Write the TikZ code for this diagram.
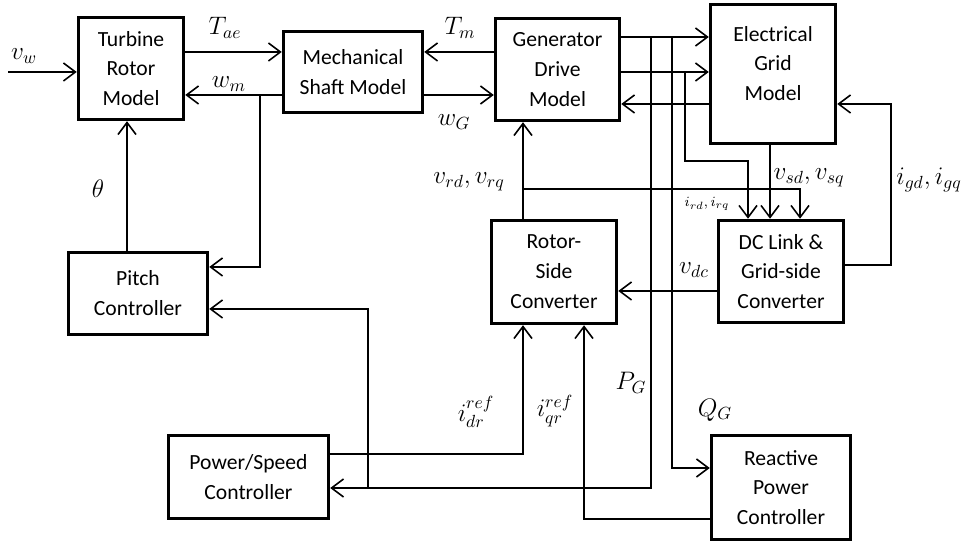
\documentclass[tikz,border=0pt]{standalone}
\usepackage{fontspec}
\setmainfont{Carlito}
\usetikzlibrary{arrows.meta}

\begin{document}
\begin{tikzpicture}[
  x=0.02cm, y=-0.02cm,
  >={Straight Barb[length=2.4mm,width=3.6mm]},
  blk/.style={draw, line width=2pt, align=center, inner sep=0pt, font=\fontsize{12.3}{17}\selectfont},
  lbl/.style={inner sep=1pt, font=\fontsize{14}{16}\selectfont},
  wire/.style={line width=0.9pt},
]
\useasboundingbox (0,0) rectangle (967,546);

% Blocks
\node[blk, minimum width=2.1cm,  minimum height=2.04cm] (turb)  at (131,68.5)  {Turbine\\Rotor\\Model};
\node[blk, minimum width=2.78cm, minimum height=1.62cm] (shaft) at (353,72)    {Mechanical\\Shaft Model};
\node[blk, minimum width=2.48cm, minimum height=2.04cm] (gen)   at (557.5,69.5){Generator\\Drive\\Model};
\node[blk, minimum width=2.5cm,  minimum height=2.78cm] (grid)  at (773,74)    {Electrical\\Grid\\Model\\[-5pt]\mbox{}};
\node[blk, minimum width=2.78cm, minimum height=1.64cm] (pitch) at (138,293.5) {Pitch\\Controller};
\node[blk, minimum width=2.5cm,  minimum height=2.06cm] (rsc)   at (554,272)   {Rotor-\\Side\\Converter};
\node[blk, minimum width=2.5cm,  minimum height=2.04cm] (dcl)   at (781,271.5) {DC Link \&\\Grid-side\\Converter};
\node[blk, minimum width=3.2cm,  minimum height=1.66cm] (psc)   at (248.5,477) {Power/Speed\\Controller};
\node[blk, minimum width=2.78cm, minimum height=2.08cm] (rpc)   at (781,487.5) {Reactive\\Power\\Controller};

% --- mechanical side
\coordinate (vin) at (8,72);
\draw[wire,->] (vin) -- (turb.west |- vin);
\draw[wire,->] (turb.east |- 0,52) -- (shaft.west |- 0,52);
\draw[wire,->] (shaft.west |- 0,95) -- (turb.east |- 0,95);
\coordinate (wmj) at (260,95);
\draw[wire,->] (wmj) |- (pitch.east |- 0,267);
\draw[wire,->] (pitch.north -| 127,0) -- (turb.south -| 127,0);
\draw[wire,->] (shaft.east |- 0,95) -- (gen.west |- 0,95);
\draw[wire,->] (gen.west |- 0,52) -- (shaft.east |- 0,52);

% --- generator / grid
\draw[wire,->] (gen.east |- 0,37) -- (grid.west |- 0,37);
\draw[wire,->] (gen.east |- 0,72) -- (grid.west |- 0,72);
\draw[wire,->] (grid.west |- 0,104) -- (gen.east |- 0,104);
\coordinate (pg) at (651,37);
\draw[wire,->] (pg) |- (psc.east |- 0,488);
\coordinate (qg) at (672,37);
\draw[wire,->] (qg) |- (rpc.west |- 0,468);
\coordinate (irq) at (685,72);
\draw[wire,->] (irq) |- (748,161) -- (dcl.north -| 748,0);
\draw[wire,->] (grid.south -| 770,0) -- (dcl.north -| 770,0);
\draw[wire,->] (dcl.east |- 0,265) -| (891,104) -- (grid.east |- 0,104);

% --- converters
\draw[wire,->] (rsc.north -| 523,0) -- (gen.south -| 523,0);
\coordinate (vrq) at (523,189);
\draw[wire,->] (vrq) -| (dcl.north -| 800,0);
\draw[wire,->] (dcl.west |- 0,291) -- (rsc.east |- 0,291);

% --- controllers
\draw[wire,->] (psc.east |- 0,454) -| (rsc.south -| 523,0);
\draw[wire,->] (rpc.west |- 0,519) -| (rsc.south -| 584,0);
\coordinate (pj) at (368,488);
\draw[wire,->] (pj) |- (pitch.east |- 0,309);

% Signal labels
\node[lbl] (lvw)  at (24,56)   {$v_w$};
\node[lbl] (ltae) at (225,28)  {$T_{ae}$};
\node[lbl] (lwm)  at (229,84)  {$w_m$};
\node[lbl] (lth)  at (98,189)  {$\theta$};
\node[lbl] (ltm)  at (460,28)  {$T_m$};
\node[lbl] (lwg)  at (454,122) {$w_G$};
\node[lbl] (lvr)  at (469,182) {$v_{rd}, v_{rq}$};
\node[inner sep=1pt, font=\fontsize{8.5}{9}\selectfont] (lir) at (707,204) {$i_{rd}, i_{rq}$};
\node[lbl] (lvs)  at (809,178) {$v_{sd}, v_{sq}$};
\node[lbl] (lig)  at (929,180) {$i_{gd}, i_{gq}$};
\node[lbl] (lvdc) at (694,270) {$v_{dc}$};
\node[lbl] (lidr) at (476,412) {$i_{dr}^{ref}$};
\node[lbl] (liqr) at (555,411) {$i_{qr}^{ref}$};
\node[lbl] (lpg)  at (631,383) {$P_G$};
\node[lbl] (lqg)  at (715,410) {$Q_G$};
\end{tikzpicture}
\end{document}
